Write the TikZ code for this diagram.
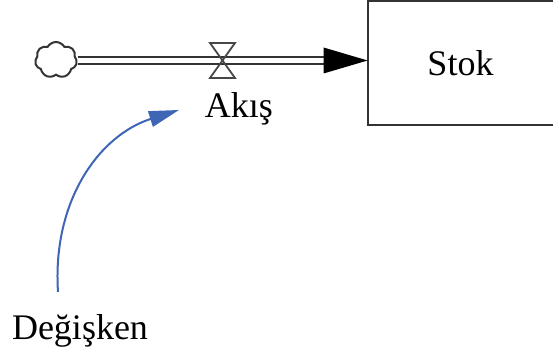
\documentclass[tikz,border=0pt]{standalone}
\usepackage{fontspec}
\setmainfont{Liberation Serif}
\usetikzlibrary{shapes.symbols,arrows.meta,calc}
\definecolor{linegray}{HTML}{333333}
\definecolor{linkblue}{HTML}{3F66B4}
\begin{document}
\begin{tikzpicture}[x=0.5pt,y=-0.5pt,
  lbl/.style={font=\fontsize{18}{20}\selectfont, inner sep=0pt},
  stockbox/.style={minimum width=92.5pt, minimum height=62pt, inner sep=0pt, font=\fontsize{18}{20}\selectfont},
  boxline/.style={draw=linegray, line width=1pt},
  sourcecloud/.style={cloud, cloud puffs=7, cloud puff arc=120, aspect=1.1, draw=linegray, line width=1pt, minimum width=21pt, minimum height=18pt, inner sep=0pt},
  pipe/.style={draw=linegray, line width=1.1pt, double=white, double distance=2.7pt},
  valveshape/.style={draw=linegray!90, line width=0.9pt},
  link/.style={draw=linkblue, line width=1pt, -{Triangle[length=15pt,width=8pt]}}
]
\useasboundingbox (0,0) rectangle (553,351);
% stock (its right side lies beyond the picture's edge)
\node[stockbox] (stok) at (460.5,63) {Stok};
\draw[boxline] (stok.north east) -- (stok.north west) -- (stok.south west) -- (stok.south east);
% source cloud
\node[sourcecloud] (src) at (56,60) {};
% valve position
\coordinate (valve) at (222.5,60.5);
% flow pipe
\draw[pipe] (src.east |- valve) -- ([xshift=-21pt]stok.west |- valve);
\fill[black] (stok.west |- valve) -- ++(-22pt,6.5pt) -- ++(0,-13pt) -- cycle;
% valve
\draw[valveshape] ($(valve)+(-12.5,-17.5)$) -- ++(25,0) -- ++(-25,35) -- ++(25,0) -- cycle;
% labels
\node[lbl, anchor=base] (akis) at (239,118) {Akış};
\node[lbl, anchor=base] (var) at (80,340) {Değişken};
% link
\coordinate (linkstart) at (58,292);
\coordinate (linkend) at (179,110);
\draw[link] (linkstart) .. controls (52,200) and (100,135) .. (linkend);
\end{tikzpicture}
\end{document}
